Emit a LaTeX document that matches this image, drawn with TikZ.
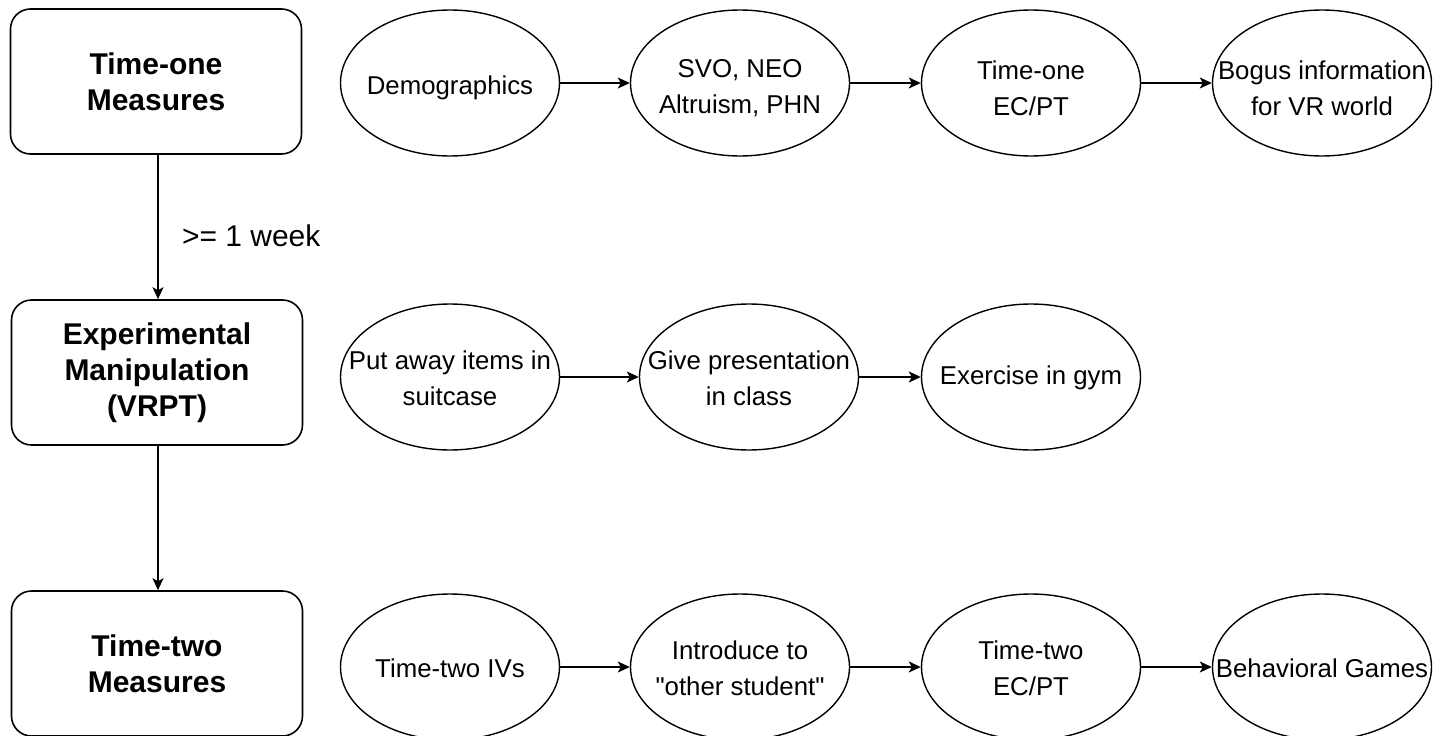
\documentclass[tikz,border=0pt]{standalone}
\usepackage{fontspec}
\setmainfont{Liberation Sans}[Ligatures=TeXOff]
\usetikzlibrary{shapes.geometric,arrows.meta}
\tikzset{
  stagebox/.style={draw, line width=1.6pt, rounded corners=20pt, minimum width=291pt, minimum height=145pt, inner sep=0pt, align=center, font=\fontsize{30}{36}\selectfont\bfseries},
  oval/.style={draw, ellipse, line width=1.4pt, minimum width=219pt, minimum height=146pt, inner sep=0pt,
    label={[align=center, font=\fontsize{25.8}{36}\selectfont, inner sep=0pt, yshift=-1pt]center:#1}},
  flow/.style={line width=1.4pt, -{Stealth[length=12pt,width=11pt,inset=3pt]}},
}
\begin{document}
\begin{tikzpicture}[x=1pt,y=-1pt]
\useasboundingbox (0,0) rectangle (1441,736);
% stage boxes
\node[stagebox] (b1) at (156,81.5) {Time-one\\Measures};
\node[stagebox] (b2) at (157,372.5) {Experimental\\Manipulation\\(VRPT)};
\node[stagebox] (b3) at (157,663.5) {Time-two\\Measures};
% row 1
\begin{scope}[every label/.append style={yshift=-4pt}]
\node[oval={Demographics}] (a1) at (450,83) {};
\node[oval={SVO, NEO\\Altruism, PHN}] (a2) at (740,83) {};
\node[oval={Time-one\\EC/PT}] (a3) at (1031,83) {};
\node[oval={Bogus information\\for VR world}] (a4) at (1322,83) {};
\end{scope}
% row 2
\node[oval={Put away items in\\suitcase}] (m1) at (450,377) {};
\node[oval={Give presentation\\in class}] (m2) at (749,377) {};
\node[oval={Exercise in gym}] (m3) at (1031,377) {};
% row 3
\node[oval={Time-two IVs}] (t1) at (450,667) {};
\node[oval={Introduce to\\"other student"}] (t2) at (740,667) {};
\node[oval={Time-two\\EC/PT}] (t3) at (1031,667) {};
\node[oval={Behavioral Games}] (t4) at (1322,667) {};
% vertical connectors
\draw[flow] (b1.south -| 158,0) -- (b2.north -| 158,0) node[midway, right=20pt, yshift=-9pt, font=\fontsize{30}{36}\selectfont] {>= 1 week};
\draw[flow] (b2.south -| 158,0) -- (b3.north -| 158,0);
% horizontal connectors
\draw[flow] (a1) -- (a2);
\draw[flow] (a2) -- (a3);
\draw[flow] (a3) -- (a4);
\draw[flow] (m1) -- (m2);
\draw[flow] (m2) -- (m3);
\draw[flow] (t1) -- (t2);
\draw[flow] (t2) -- (t3);
\draw[flow] (t3) -- (t4);
\end{tikzpicture}
\end{document}
